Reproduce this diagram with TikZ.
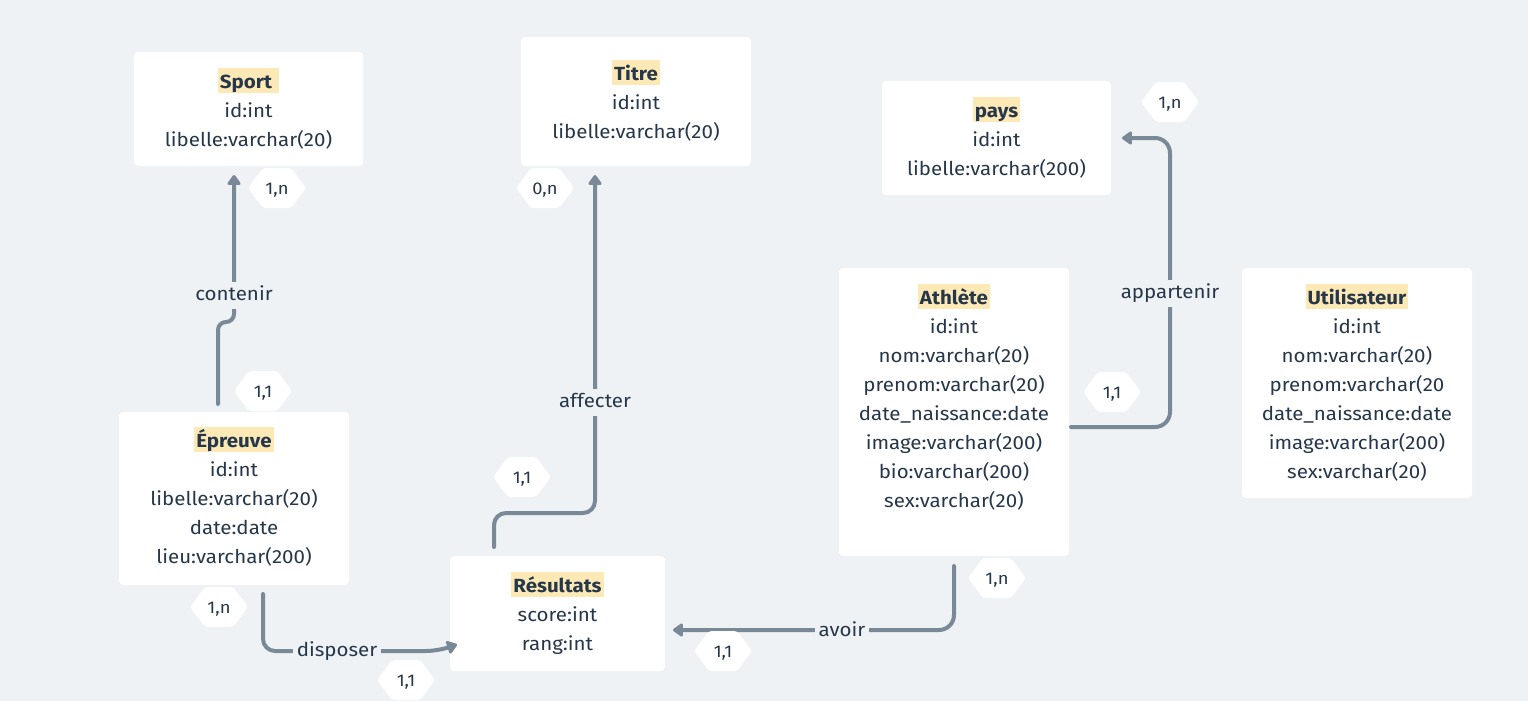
\documentclass[tikz,border=0pt]{standalone}
\usepackage{fontspec}
\setmainfont{Fira Sans}[FakeStretch=1.08]
\usetikzlibrary{arrows.meta,calc}
\definecolor{bgc}{HTML}{EEF2F5}
\definecolor{lnc}{HTML}{7A8997}
\definecolor{txc}{HTML}{27374A}
\definecolor{hlc}{HTML}{FDE9B6}
\newcommand{\hltitle}[2][0pt]{{\setlength{\fboxsep}{0pt}\colorbox{hlc}{\rule[-5pt]{0pt}{25pt}\hspace{2pt}\textbf{#2}\hspace{2pt}\hspace{#1}}}}
\begin{document}
\begin{tikzpicture}[x=1pt,y=-1pt,
 box/.style={fill=white, rounded corners=4pt, inner sep=0pt, outer sep=0pt},
 etxt/.style={anchor=north, inner sep=0pt, align=center, text=txc, font=\fontsize{19}{29}\selectfont},
 conn/.style={draw=lnc, line width=4pt, line cap=round, rounded corners=12pt, -{Triangle[length=11pt,width=15pt,round]}},
 clbl/.style={fill=bgc, text=txc, inner xsep=4pt, inner ysep=4pt, text height=14pt, text depth=5pt, anchor=base, font=\fontsize{19}{22}\selectfont},
 hexlbl/.style={inner sep=0pt, anchor=base, text=txc, font=\fontsize{17}{19}\selectfont},
 hex/.pic={\fill[white, rounded corners=3pt] (-29,0) -- (-14,-20) -- (14,-20) -- (29,0) -- (14,20) -- (-14,20) -- cycle; \node[hexlbl] (-t) at (0,6) {#1};}
]
\fill[bgc] (0,0) rectangle (1528,701);
\useasboundingbox (0,0) rectangle (1528,701);

% entity boxes
\node[box, minimum width=229pt, minimum height=114pt] (sp) at (248.5,109) {};
\node[etxt] (sp-t) at ($(sp.north)+(0,16)$) {\hltitle[5pt]{Sport}\\id:int\\libelle:varchar(20)};

\node[box, minimum width=230pt, minimum height=129pt] (ti) at (636,101.5) {};
\node[etxt] (ti-t) at ($(ti.north)+(0,23)$) {\hltitle{Titre}\\id:int\\libelle:varchar(20)};

\node[box, minimum width=229pt, minimum height=114pt] (pa) at (996.5,138) {};
\node[etxt] (pa-t) at ($(pa.north)+(0,16)$) {\hltitle{pays}\\id:int\\libelle:varchar(200)};

\node[box, minimum width=230pt, minimum height=288pt] (at) at (954,412) {};
\node[etxt] (at-t) at ($(at.north)+(0,16)$) {\hltitle{Athlète}\\id:int\\nom:varchar(20)\\prenom:varchar(20)\\date\_naissance:date\\image:varchar(200)\\bio:varchar(200)\\sex:varchar(20)};

\node[box, minimum width=230pt, minimum height=230pt] (ut) at (1357,383) {};
\node[etxt] (ut-t) at ($(ut.north)+(0,16)$) {\hltitle{Utilisateur}\\id:int\\nom:varchar(20)\\prenom:varchar(20\\date\_naissance:date\\image:varchar(200)\\sex:varchar(20)};

\node[box, minimum width=230pt, minimum height=173pt] (ep) at (234,498.5) {};
\node[etxt] (ep-t) at ($(ep.north)+(0,15)$) {\hltitle{Épreuve}\\id:int\\libelle:varchar(20)\\date:date\\lieu:varchar(200)};

\node[box, minimum width=215pt, minimum height=115pt] (res) at (557.5,613.5) {};
\node[etxt] (res-t) at ($(res.north)+(0,16)$) {\hltitle{Résultats}\\score:int\\rang:int};

% connectors
\draw[conn, rounded corners=8pt] ($(ep.north)+(-16,-8)$) -- ++(0,-82) -- ++(16,0) -- ($(ep.north |- sp.south)+(0,9)$);
\draw[conn] ($(res.north)+(-63.5,-9)$) -- ++(0,-34) -| ($(ti.south)+(-41,9)$);
\draw[conn, rounded corners=15pt] ($(at.east)+(2,15)$) -| ($(pa.east)+(59,0)$) -- ($(pa.east)+(11,0)$);
\draw[conn, rounded corners=15pt] ($(at.south)+(0,10)$) |- ($(res.east)+(8,16.5)$);
\draw[conn, rounded corners=12pt] ($(ep.south)+(29,9)$) |- ($(res.west)+(-12,37.5)$) -- ($(res.west)+(7,31)$);

% connector labels
\node[clbl] (l1) at (234,300) {contenir};
\node[clbl] (l2) at (595,407) {affecter};
\node[clbl] (l3) at (1170,298) {appartenir};
\node[clbl] (l4) at (842,636) {avoir};
\node[clbl] (l5) at (337,656) {disposer};

% cardinalities
\pic (h1) at (277,188) {hex={1,n}};
\pic (h2) at (545,188) {hex={0,n}};
\pic (h3) at (1170,102) {hex={1,n}};
\pic (h4) at (263,391) {hex={1,1}};
\pic (h5) at (219,607) {hex={1,n}};
\pic (h6) at (406,680) {hex={1,1}};
\pic (h7) at (522,477) {hex={1,1}};
\pic (h8) at (997,578) {hex={1,n}};
\pic (h9) at (723,651) {hex={1,1}};
\pic (h10) at (1112,392) {hex={1,1}};
\end{tikzpicture}
\end{document}
